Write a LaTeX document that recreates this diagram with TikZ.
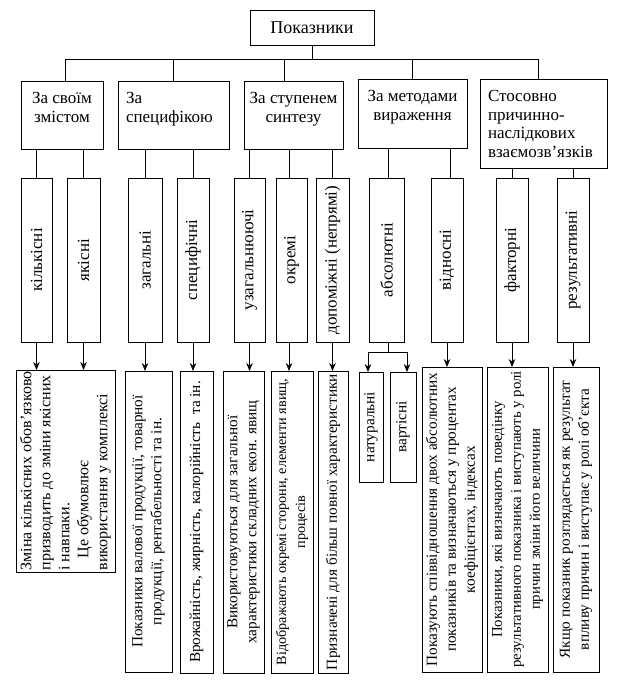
\documentclass[tikz,border=0pt]{standalone}
\usepackage{fontspec}
\usepackage{graphicx}
\setmainfont{Liberation Serif}
\usetikzlibrary{arrows.meta}
\newcommand{\rt}[1]{\rotatebox{90}{#1}}
\newcommand{\lth}[2]{\rotatebox{90}{\parbox{#1}{\centering #2}}}
\begin{document}
\begin{tikzpicture}[x=1pt,y=-1pt,
  box/.style={draw,line width=0.9pt,inner sep=0pt,outer sep=0pt},
  big/.style={font=\fontsize{17}{18.5}\selectfont},
  small/.style={font=\fontsize{15.3}{19}\selectfont},
  conn/.style={line width=0.9pt},
  arr/.style={line width=0.9pt,-{Stealth[length=8pt,width=6.5pt]}}]
\useasboundingbox[fill=white] (0,0) rectangle (622,688);

% top
\node[box,font=\fontsize{18}{20}\selectfont,minimum width=124,minimum height=35] (top) at (312,27.5) {Показники};
\coordinate (bus) at (0,59);

% level 1
\node[box,big,minimum width=82,minimum height=68] (b1) at (62,115)
  {\parbox[c][45pt][t]{76pt}{\centering За своїм\\змістом}};
\node[box,big,minimum width=111,minimum height=68] (b2) at (173.5,115)
  {\parbox[c][45pt][t]{95pt}{\raggedright За\\специфікою}};
\node[box,big,minimum width=99,minimum height=68] (b3) at (293.5,115)
  {\parbox[c][45pt][t]{97pt}{\centering За ступенем\\синтезу}};
\node[box,big,minimum width=109,minimum height=69] (b4) at (412.5,113.5)
  {\parbox[c][46pt][t]{100pt}{\centering За методами\\вираження}};
\node[box,big,minimum width=127,minimum height=89] (b5) at (543.5,123.5)
  {\parbox[c][66pt][t]{111pt}{\raggedright Стосовно\\причинно-\\наслідкових\\взаємозв’язків}};

\draw[conn] (top.south) -- (top.south |- bus);
\draw[conn] ([xshift=3pt]b1.north) |- ([xshift=-5.5pt]b5.north |- bus) -- ([xshift=-5.5pt]b5.north);
\draw[conn] (b2.north) -- (b2.north |- bus);
\draw[conn] ([xshift=-9.5pt]b3.north) -- ([xshift=-9.5pt]b3.north |- bus);
\draw[conn] (b4.north) -- (b4.north |- bus);

% level 2
\foreach \n/\x/\w/\t in {k1/36.5/31/кількісні, k2/83.5/33/якісні, s1/145/34/загальні,
  s2/193/32/специфічні, c1/249.5/31/узагальнюючі, c2/291.5/31/окремі,
  c3/332.5/33/{допоміжні (непрямі)}, m1/386.5/35/абсолютні, m2/447/32/відносні,
  r1/512/32/факторні, r2/573/32/результативні}
  \node[box,big,minimum width=\w,minimum height=164] (\n) at (\x,260) {\rt{\t}};

\draw[conn] (b1.south -| k1.north) -- (k1.north);
\draw[conn] (b1.south -| k2.north) -- (k2.north);
\draw[conn] (b2.south -| s1.north) -- (s1.north);
\draw[conn] (b2.south -| s2.north) -- (s2.north);
\draw[conn] (b3.south -| c1.north) -- (c1.north);
\draw[conn] ([xshift=-2.5pt]c2.north |- b3.south) -- ([xshift=-2.5pt]c2.north);
\draw[conn] (b3.south -| c3.north) -- (c3.north);
\draw[conn] ([xshift=1.5pt]b4.south -| m1.north) -- ([xshift=1.5pt]m1.north);
\draw[conn] ([xshift=3pt]b4.south -| m2.north) -- ([xshift=3pt]m2.north);
\draw[conn] (b5.south -| r1.north) -- (r1.north);
\draw[conn] (b5.south -| r2.north) -- (r2.north);

% level 3
\node[box,small,font=\fontsize{16}{19}\selectfont,minimum width=99,minimum height=202] (L1) at (65.5,471)
  {\rotatebox{90}{\parbox{199pt}{\raggedright Зміна кількісних обов’язково\\призводить до зміни якісних\\і навпаки.\\\hspace*{12pt}Це обумовлює\\використання у комплексі}}};
\node[box,small,minimum width=47,minimum height=301] (L2) at (148.5,521.5)
  {\lth{298pt}{Показники валової продукції, товарної\\продукції, рентабельності та ін.}};
\node[box,small,minimum width=33,minimum height=302] (L3) at (196.5,522)
  {\lth{298pt}{Врожайність, жирність, калорійність\ \ та ін.}};
\node[box,small,minimum width=41,minimum height=302] (L4) at (243.5,522)
  {\lth{298pt}{Використовуються для загальної\\характеристики складних екон. явищ}};
\node[box,small,font=\fontsize{14.2}{19}\selectfont,minimum width=42,minimum height=302] (L5) at (292,522)
  {\lth{298pt}{Відображають окремі сторони, елементи явищ,\\процесів}};
\node[box,small,minimum width=30,minimum height=302] (L6) at (333,522)
  {\lth{298pt}{Призначені для більш повної характеристики}};
\node[box,small,minimum width=24,minimum height=110] (n1) at (371,427) {\rt{натуральні}};
\node[box,small,minimum width=26,minimum height=110] (n2) at (403,427) {\rt{вартісні}};
\node[box,small,minimum width=60,minimum height=305] (L7) at (452,519.5)
  {\lth{302pt}{Показують співвідношення двох абсолютних\\показників та визначаються у процентах\\коефіцієнтах, індексах}};
\node[box,small,font=\fontsize{14.8}{19}\selectfont,minimum width=61,minimum height=305] (L8) at (517.5,519.5)
  {\lth{302pt}{Показники, які визначають поведінку\\результативного показника і виступають у ролі\\причин зміни його величини}};
\node[box,small,minimum width=46,minimum height=305] (L9) at (576,519.5)
  {\lth{302pt}{Якщо показник розглядається як результат\\впливу причин і виступає у ролі об’єкта}};

\draw[arr] (k1.south) -- (L1.north -| k1.south);
\draw[arr] (k2.south) -- (L1.north -| k2.south);
\draw[arr] (s1.south) -- (L2.north -| s1.south);
\draw[arr] (s2.south) -- (L3.north -| s2.south);
\draw[arr] (c1.south) -- (L4.north -| c1.south);
\draw[arr] ([xshift=-2.5pt]c2.south) -- ([xshift=-2.5pt]c2.south |- L5.north);
\draw[arr] (c3.south) -- (L6.north -| c3.south);
\draw[arr] (m2.south) -- (L7.north -| m2.south);
\draw[arr] (r1.south) -- (L8.north -| r1.south);
\draw[arr] (r2.south) -- (L9.north -| r2.south);
\coordinate (mb) at (388,352);
\draw[conn] ([xshift=1.5pt]m1.south) -- (mb);
\draw[arr] (mb) -| ([xshift=-3pt]n1.north);
\draw[arr] (mb) -| ([xshift=4pt]n2.north);
\end{tikzpicture}
\end{document}
